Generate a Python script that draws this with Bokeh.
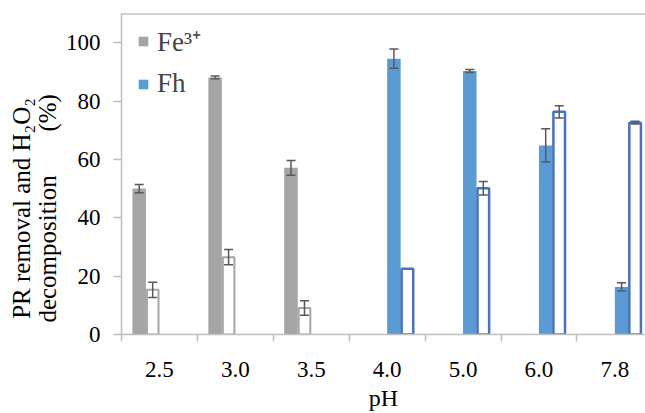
from bokeh.plotting import figure
from bokeh.models import (ColumnDataSource, FixedTicker, Range1d, Span, Whisker,
                          TeeHead, Legend, LegendItem)
from bokeh.embed import file_html
from bokeh.resources import INLINE

# ---- data ----
ph_labels = ["2.5", "3.0", "3.5", "4.0", "5.0", "6.0", "7.8"]

fe_idx = [0, 1, 2]
fe_pr = [50.0, 88.1, 57.1]          # PR removal, Fe3+
fe_pr_err = [1.4, 0.5, 2.5]
fe_h2o2 = [15.3, 26.5, 9.1]         # H2O2 decomposition, Fe3+
fe_h2o2_err = [2.6, 2.6, 2.5]

fh_idx = [3, 4, 5, 6]
fh_pr = [94.5, 90.3, 64.8, 16.3]    # PR removal, Fh
fh_pr_err = [3.3, 0.5, 5.7, 1.4]
fh_h2o2 = [22.5, 50.1, 76.3, 72.6]  # H2O2 decomposition, Fh
fh_h2o2_err = [0.0, 2.3, 2.1, 0.5]

y_ticks = [0, 20, 40, 60, 80, 100]

# ---- style ----
FONT = "Liberation Serif"
GRAY = "#a5a5a5"
BLUE = "#5b9bd5"
BLUE_EDGE = "#4472c4"
ERR = "#595959"
AXIS = "#bfbfbf"
FS = "23px"

n_cat = len(ph_labels)
bw = 0.178
offs = [-1.5 * bw, -0.5 * bw, 0.5 * bw, 1.5 * bw]

p = figure(width=645, height=413, output_backend="svg", toolbar_location=None,
           x_range=Range1d(0, 524 / 75.9), y_range=Range1d(0, 110),
           min_border_left=121, min_border_right=0, min_border_top=13,
           min_border_bottom=76)
p.outline_line_color = None
p.xgrid.visible = False
p.ygrid.visible = False
p.background_fill_color = "white"
p.border_fill_color = "white"


def xs(idx, k):
    return [i + 0.5 + offs[k] for i in idx]


src_fe_pr = ColumnDataSource(dict(x=xs(fe_idx, 0), top=fe_pr,
                                  up=[v + e for v, e in zip(fe_pr, fe_pr_err)],
                                  lo=[v - e for v, e in zip(fe_pr, fe_pr_err)]))
src_fe_h = ColumnDataSource(dict(x=xs(fe_idx, 1), top=fe_h2o2,
                                 up=[v + e for v, e in zip(fe_h2o2, fe_h2o2_err)],
                                 lo=[v - e for v, e in zip(fe_h2o2, fe_h2o2_err)]))
src_fh_pr = ColumnDataSource(dict(x=xs(fh_idx, 2), top=fh_pr,
                                  up=[v + e for v, e in zip(fh_pr, fh_pr_err)],
                                  lo=[v - e for v, e in zip(fh_pr, fh_pr_err)]))
fh_h_x = xs(fh_idx, 3)
src_fh_h = ColumnDataSource(dict(x=fh_h_x, top=fh_h2o2))
keep = [i for i, e in enumerate(fh_h2o2_err) if e > 0]
src_fh_h_err = ColumnDataSource(dict(
    x=[fh_h_x[i] for i in keep],
    up=[fh_h2o2[i] + fh_h2o2_err[i] for i in keep],
    lo=[fh_h2o2[i] - fh_h2o2_err[i] for i in keep]))

r_fe = p.vbar(x="x", top="top", width=bw, source=src_fe_pr, fill_color=GRAY,
              line_color=None)
p.vbar(x="x", top="top", width=bw - 0.025, source=src_fe_h, fill_color="white",
       line_color=GRAY, line_width=2)
r_fh = p.vbar(x="x", top="top", width=bw, source=src_fh_pr, fill_color=BLUE,
              line_color=None)
p.vbar(x="x", top="top", width=bw - 0.025, source=src_fh_h, fill_color="white",
       line_color=BLUE_EDGE, line_width=2.5)

for s in [src_fe_pr, src_fe_h, src_fh_pr, src_fh_h_err]:
    w = Whisker(source=s, base="x", upper="up", lower="lo", dimension="height",
                line_color=ERR, line_width=1.5, level="overlay",
                upper_head=TeeHead(size=9, line_color=ERR, line_width=1.5),
                lower_head=TeeHead(size=9, line_color=ERR, line_width=1.5))
    p.add_layout(w)

# top frame line
p.add_layout(Span(location=110, dimension="width", line_color="#a0a0a0",
                  line_width=2))

# axes
xa = p.xaxis[0]
xa.ticker = FixedTicker(ticks=[i + 0.5 for i in range(n_cat)],
                        minor_ticks=list(range(n_cat + 1)))
xa.major_label_overrides = {i + 0.5: lab for i, lab in enumerate(ph_labels)}
xa.major_tick_line_color = None
xa.minor_tick_line_color = AXIS
xa.minor_tick_line_width = 1.5
xa.minor_tick_out = 7
xa.minor_tick_in = 0
xa.axis_line_color = AXIS
xa.axis_line_width = 1.5
xa.major_label_standoff = 20
xa.major_label_text_font = FONT
xa.major_label_text_font_size = FS
xa.major_label_text_color = "black"
xa.axis_label = "pH"
xa.axis_label_text_font = FONT
xa.axis_label_text_font_size = "24px"
xa.axis_label_text_font_style = "normal"
xa.axis_label_text_color = "black"
xa.axis_label_standoff = 5

NB = "\u00a0" * 11
GAP = "\u00a0" * 7
ya = p.yaxis[0]
ya.ticker = FixedTicker(ticks=y_ticks, minor_ticks=[])
ya.major_tick_line_color = AXIS
ya.major_tick_line_width = 1.5
ya.major_tick_out = 8
ya.major_tick_in = 0
ya.axis_line_color = AXIS
ya.axis_line_width = 1.5
ya.major_label_standoff = 13
ya.major_label_text_font = FONT
ya.major_label_text_font_size = FS
ya.major_label_text_color = "black"
ya.axis_label = ("PR removal and H\u2082O\u2082" + NB + "\n"
                 + "decomposition" + GAP + "(%)" + NB)
ya.axis_label_text_font = FONT
ya.axis_label_text_font_size = "25px"
ya.axis_label_text_font_style = "normal"
ya.axis_label_text_color = "black"
ya.axis_label_text_line_height = 0.95
ya.axis_label_standoff = 2

legend = Legend(items=[LegendItem(label="Fe\u00b3\u207a", renderers=[r_fe]),
                       LegendItem(label="Fh", renderers=[r_fh])],
                location=(16, 235), orientation="vertical")
legend.border_line_color = None
legend.background_fill_alpha = 0
legend.label_text_font = FONT
legend.label_text_font_size = "27px"
legend.glyph_width = 12
legend.glyph_height = 12
legend.label_standoff = 8
legend.spacing = 9
legend.padding = 8
legend.margin = 0
p.add_layout(legend)

open("out.html", "w").write(file_html(p, INLINE))
